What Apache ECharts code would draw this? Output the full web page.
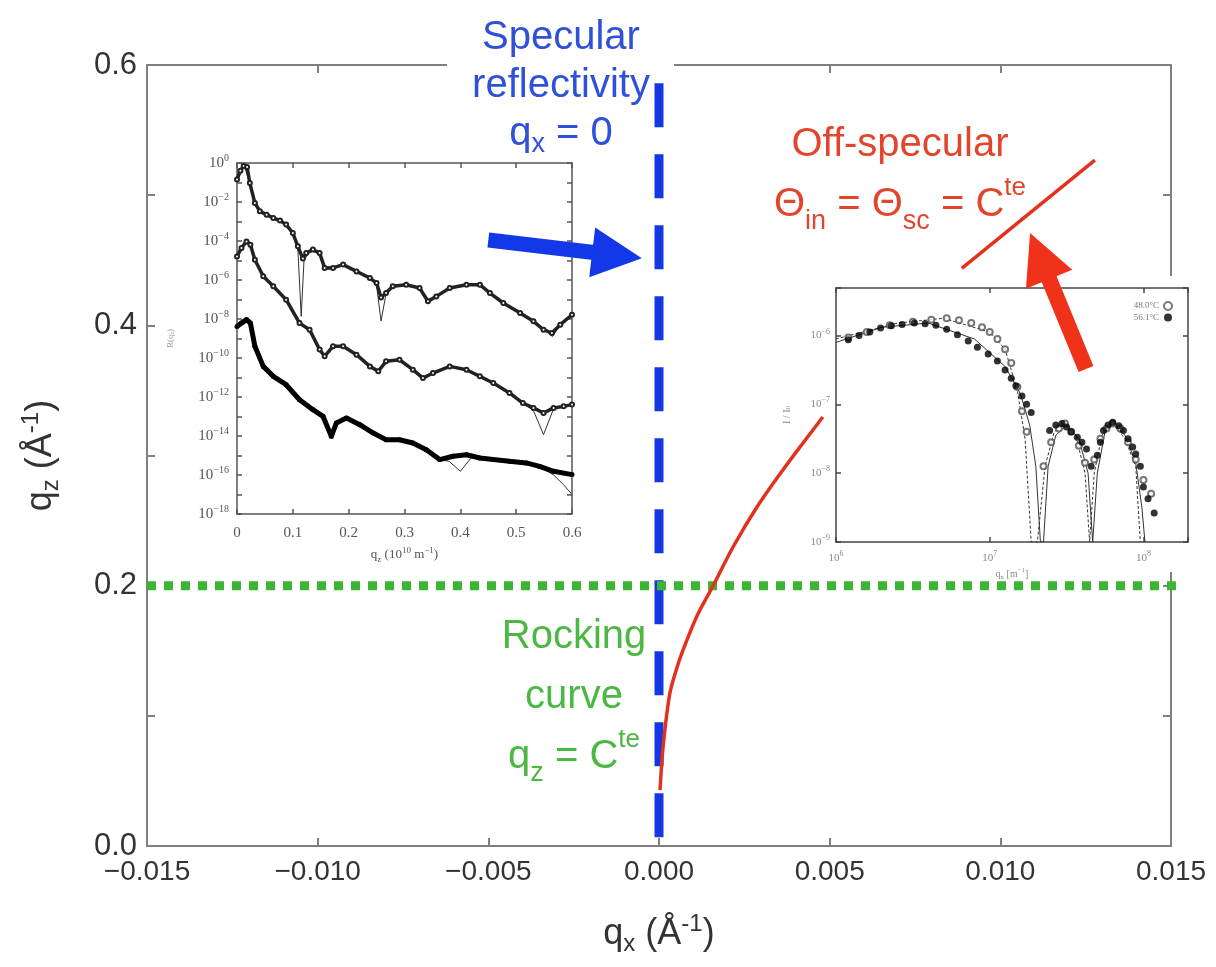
<!DOCTYPE html>
<html><head><meta charset="utf-8">
<script src="https://cdn.jsdelivr.net/npm/echarts/dist/echarts.min.js"></script>
<style>html,body{margin:0;padding:0;background:#fff}#c{width:1216px;height:967px}</style>
</head><body><div id="c"></div>
<script>
// ---------- main chart data (qx, qz in Å^-1) ----------
const specularLine = [[0, 0.586], [0, 0]];
const rockingLine = [[-0.015, 0.2], [0.0158, 0.2]];
const offSpecLower = [[0.00003,0.0430],[0.00012,0.0761],[0.00032,0.1175],[0.00056,0.1398],[0.00082,0.1583],[0.00114,0.1782],[0.00155,0.1982],[0.00217,0.2297],[0.00287,0.2604],[0.00363,0.2889],[0.00422,0.3096],[0.0048,0.3296]];
const offSpecUpper = [[0.00887,0.4438],[0.01277,0.527]];
const blueArrow = [[-0.0050,0.4656],[-0.00123,0.4538]];
const redArrow = [[0.01251,0.3664],[0.01115,0.4532]];

// ---------- inset 1: reflectivity curves (qz, log10 R) ----------
const specA = [[0,-0.85],[0.006,-0.4],[0.012,-0.15],[0.018,-0.2],[0.023,-1.03],[0.032,-2.05],[0.041,-2.48],[0.053,-2.65],[0.065,-2.82],[0.077,-2.95],[0.088,-3.16],[0.1,-3.59],[0.109,-4.27],[0.118,-4.9],[0.124,-4.62],[0.136,-4.44],[0.148,-4.62],[0.157,-5.38],[0.172,-5.38],[0.19,-5.21],[0.214,-5.56],[0.238,-5.9],[0.25,-6.15],[0.258,-6.9],[0.267,-6.67],[0.279,-6.32],[0.303,-6.24],[0.327,-6.41],[0.342,-7.09],[0.357,-6.84],[0.381,-6.41],[0.411,-6.24],[0.435,-6.24],[0.453,-6.67],[0.477,-7.18],[0.507,-7.69],[0.531,-8.12],[0.549,-8.55],[0.564,-8.72],[0.579,-8.29],[0.6,-7.78]];
const fitA = [[0,-0.8],[0.012,-0.1],[0.023,-1.0],[0.032,-2.05],[0.041,-2.48],[0.065,-2.82],[0.088,-3.16],[0.1,-3.6],[0.109,-4.4],[0.115,-7.86],[0.12,-5.0],[0.13,-4.5],[0.148,-4.62],[0.157,-5.3],[0.172,-5.35],[0.19,-5.2],[0.214,-5.56],[0.238,-5.9],[0.25,-6.3],[0.258,-8.1],[0.267,-6.7],[0.279,-6.32],[0.303,-6.24],[0.327,-6.41],[0.343,-7.2],[0.357,-6.84],[0.381,-6.41],[0.411,-6.24],[0.435,-6.24],[0.453,-6.67],[0.477,-7.18],[0.507,-7.69],[0.531,-8.12],[0.549,-8.5],[0.565,-8.9],[0.579,-8.3],[0.6,-7.78]];
const specB = [[0,-4.79],[0.008,-4.36],[0.017,-4.02],[0.024,-4.19],[0.032,-4.96],[0.047,-5.81],[0.065,-6.32],[0.088,-7.01],[0.112,-8.21],[0.13,-8.55],[0.148,-9.57],[0.157,-9.91],[0.172,-9.4],[0.19,-9.4],[0.214,-9.83],[0.238,-10.43],[0.253,-10.68],[0.267,-10.17],[0.291,-10.09],[0.315,-10.6],[0.333,-11.03],[0.351,-10.77],[0.381,-10.43],[0.411,-10.6],[0.435,-10.94],[0.459,-11.28],[0.488,-11.79],[0.512,-12.31],[0.531,-12.56],[0.549,-12.82],[0.567,-12.56],[0.585,-12.48],[0.6,-12.39]];
const fitB = [[0,-4.79],[0.017,-4.02],[0.024,-4.19],[0.032,-4.96],[0.047,-5.81],[0.065,-6.32],[0.088,-7.01],[0.112,-8.21],[0.13,-8.55],[0.148,-9.57],[0.157,-9.91],[0.172,-9.4],[0.19,-9.4],[0.214,-9.83],[0.238,-10.43],[0.253,-10.68],[0.267,-10.17],[0.291,-10.09],[0.315,-10.6],[0.333,-11.03],[0.351,-10.77],[0.381,-10.43],[0.411,-10.6],[0.435,-10.94],[0.459,-11.28],[0.488,-11.79],[0.512,-12.31],[0.531,-12.7],[0.549,-13.93],[0.567,-12.6],[0.585,-12.48],[0.6,-12.39]];
const specC = [[0,-8.38],[0.008,-8.21],[0.017,-8.03],[0.024,-8.21],[0.032,-9.4],[0.047,-10.43],[0.065,-10.94],[0.088,-11.37],[0.112,-12.14],[0.136,-12.65],[0.154,-12.99],[0.169,-14.02],[0.178,-13.33],[0.196,-13.08],[0.22,-13.42],[0.244,-13.85],[0.267,-14.19],[0.291,-14.19],[0.315,-14.36],[0.339,-14.7],[0.363,-15.21],[0.387,-15.04],[0.411,-14.96],[0.435,-15.13],[0.459,-15.21],[0.488,-15.3],[0.518,-15.38],[0.542,-15.56],[0.567,-15.81],[0.6,-15.98]];
const fitC = [[0,-8.38],[0.017,-8.03],[0.024,-8.21],[0.032,-9.4],[0.047,-10.43],[0.065,-10.94],[0.088,-11.37],[0.112,-12.14],[0.136,-12.65],[0.154,-12.99],[0.169,-14.02],[0.178,-13.33],[0.196,-13.08],[0.22,-13.42],[0.244,-13.85],[0.267,-14.19],[0.291,-14.19],[0.315,-14.36],[0.339,-14.7],[0.363,-15.21],[0.38,-15.3],[0.4,-15.81],[0.42,-15.1],[0.459,-15.21],[0.488,-15.3],[0.518,-15.38],[0.542,-15.56],[0.567,-16.0],[0.585,-16.5],[0.6,-17.0]];

// ---------- inset 2: off-specular curves (log10 qx, log10 I/I0) ----------
const open48 = [[6.08,-6.03],[6.2,-5.95],[6.35,-5.85],[6.5,-5.8],[6.62,-5.77],[6.72,-5.75],[6.8,-5.78],[6.88,-5.82],[6.95,-5.88],[7.0,-5.95],[7.05,-6.05],[7.1,-6.2],[7.14,-6.4],[7.18,-6.75],[7.21,-7.1],[7.24,-7.4],[7.35,-7.9],[7.4,-7.55],[7.45,-7.35],[7.49,-7.28],[7.53,-7.4],[7.58,-7.6],[7.62,-7.85],[7.68,-7.8],[7.72,-7.5],[7.76,-7.35],[7.8,-7.28],[7.85,-7.35],[7.9,-7.55],[7.95,-7.8],[8.0,-8.1],[8.05,-8.3]];
const filled56 = [[6.08,-6.06],[6.15,-6.0],[6.22,-5.95],[6.29,-5.89],[6.36,-5.86],[6.43,-5.84],[6.51,-5.82],[6.58,-5.83],[6.65,-5.85],[6.72,-5.91],[6.79,-5.99],[6.86,-6.08],[6.92,-6.17],[6.99,-6.27],[7.05,-6.37],[7.1,-6.5],[7.14,-6.62],[7.17,-6.73],[7.21,-6.88],[7.24,-7.0],[7.27,-7.12],[7.39,-7.38],[7.43,-7.3],[7.47,-7.28],[7.5,-7.33],[7.53,-7.4],[7.57,-7.48],[7.6,-7.55],[7.63,-7.65],[7.66,-7.9],[7.7,-7.74],[7.72,-7.55],[7.74,-7.38],[7.77,-7.3],[7.8,-7.26],[7.84,-7.31],[7.87,-7.38],[7.9,-7.5],[7.93,-7.62],[7.95,-7.72],[7.98,-7.9],[8.0,-8.2],[8.03,-8.37],[8.07,-8.58]];
const fit56 = [[6.0,-6.1],[6.3,-5.88],[6.6,-5.82],[6.9,-6.05],[7.1,-6.45],[7.2,-6.85],[7.26,-7.3],[7.3,-7.9],[7.33,-9.0],[7.35,-9.0],[7.38,-7.9],[7.43,-7.45],[7.5,-7.3],[7.58,-7.5],[7.64,-8.0],[7.67,-9.0],[7.7,-8.0],[7.75,-7.4],[7.81,-7.27],[7.88,-7.45],[7.95,-7.85],[7.99,-8.5],[8.01,-9.0]];
const fit48 = [[6.0,-6.05],[6.4,-5.82],[6.7,-5.75],[7.0,-5.95],[7.1,-6.2],[7.18,-6.8],[7.23,-7.5],[7.27,-9.0],[7.31,-9.0],[7.36,-7.9],[7.42,-7.4],[7.49,-7.27],[7.56,-7.45],[7.62,-8.0],[7.65,-9.0],[7.68,-8.0],[7.73,-7.45],[7.8,-7.28],[7.88,-7.5],[7.95,-7.9],[7.98,-9.0]];

const SANS = 'Liberation Sans, Arial, Helvetica, sans-serif';
const SERIF = 'Liberation Serif, DejaVu Serif, serif';
const FRAME = '#808080';

function mainX(v){ if (Math.abs(v) < 1e-12) return '0.000'; return (v < 0 ? '\u2212' : '') + Math.abs(v).toFixed(3); }
function mainY(v){ const k = Math.round(v * 10); return k % 2 === 0 ? (k / 10).toFixed(1) : ''; }
function pow10Even(v){ if (Math.abs(v - Math.round(v)) > 1e-9) return ''; const k = Math.round(v); if (k % 2 !== 0) return ''; return k === 0 ? '10{sup|0}' : '10{sup|\u2212' + (-k) + '}'; }
function pow10(v){ if (Math.abs(v - Math.round(v)) > 1e-9) return ''; const k = Math.round(v); return k < 0 ? '10{sup|\u2212' + (-k) + '}' : '10{sup|' + k + '}'; }

const supSub = (fs) => ({
  sub: {fontSize: fs, lineHeight: Math.round(fs*0.95), verticalAlign: 'bottom', fontFamily: SANS, fontWeight: 'normal'},
  sup: {fontSize: fs, lineHeight: Math.round(fs*0.95), verticalAlign: 'top', fontFamily: SANS, fontWeight: 'normal'}
});
function annot(color, lh){
  return {
    a: {fontSize: 40, lineHeight: lh, color: color, fontFamily: SANS, fontWeight: 'normal'},
    s: {fontSize: 27, lineHeight: Math.round(lh/2), verticalAlign: 'bottom', color: color, fontFamily: SANS, fontWeight: 'normal'},
    p: {fontSize: 26, lineHeight: Math.round(lh/2), verticalAlign: 'top', color: color, fontFamily: SANS, fontWeight: 'normal'}
  };
}
function frameAxis(grid, pos, min, max, interval, color, width, tick, extra){
  return Object.assign({gridIndex: grid, type: 'value', min: min, max: max, interval: interval, position: pos,
    axisLine: {show: true, onZero: false, lineStyle: {color: color, width: width}},
    axisTick: {show: true, inside: true, length: tick, lineStyle: {color: color, width: Math.min(width, 2)}},
    axisLabel: {show: false}, splitLine: {show: false}}, extra || {});
}

const chart = echarts.init(document.getElementById('c'), null, {renderer: 'canvas'});

const option = {
  animation: false,
  backgroundColor: '#fff',
  textStyle: {fontFamily: SANS},
  grid: [
    {left: 147, top: 65, width: 1024, height: 781, show: false},
    {left: 237, top: 163, width: 335, height: 351, show: true, backgroundColor: '#fff', borderWidth: 0, zlevel: 1, z: 2},
    {left: 836, top: 288, width: 352, height: 254, show: true, backgroundColor: '#fff', borderWidth: 0, zlevel: 1, z: 2}
  ],
  xAxis: [
    frameAxis(0, 'bottom', -0.015, 0.015, 0.005, FRAME, 2, 8, {
      axisLabel: {formatter: mainX, fontSize: 28, color: '#333', margin: 12, fontFamily: SANS},
      name: 'q{sub|x} (Å{sup|-1})', nameLocation: 'middle', nameGap: 66,
      nameTextStyle: {fontSize: 36, color: '#333', lineHeight: 44, fontFamily: SANS, rich: supSub(24)}}),
    frameAxis(0, 'top', -0.015, 0.015, 0.005, FRAME, 2, 8),
    frameAxis(1, 'bottom', 0, 0.6, 0.1, '#555', 1.5, 5, {zlevel: 1, z: 3,
      axisLabel: {formatter: v => v === 0 ? '0' : v.toFixed(1), fontSize: 15, color: '#555', margin: 12, fontFamily: SERIF},
      name: 'q{sub|z} (10{sup|10} m{sup|\u22121})', nameLocation: 'middle', nameGap: 32,
      nameTextStyle: {fontSize: 13, color: '#555', lineHeight: 18, fontFamily: SERIF,
        rich: {sub: {fontSize: 9, lineHeight: 9, verticalAlign: 'bottom', fontFamily: SERIF}, sup: {fontSize: 9, lineHeight: 9, verticalAlign: 'top', fontFamily: SERIF}}}}),
    frameAxis(1, 'top', 0, 0.6, 0.1, '#555', 1.5, 5, {zlevel: 1, z: 3}),
    frameAxis(2, 'bottom', 6, 8.29, 1, '#444', 1.5, 5, {zlevel: 1, z: 3,
      axisLabel: {formatter: pow10, fontSize: 11, color: '#888', margin: 8, fontFamily: SERIF, lineHeight: 16,
        rich: {sup: {fontSize: 8, lineHeight: 8, verticalAlign: 'top', fontFamily: SERIF, color: '#888'}}},
      name: 'q{sub|x} [m{sup|\u22121}]', nameLocation: 'middle', nameGap: 22,
      nameTextStyle: {fontSize: 10, color: '#888', fontFamily: SERIF, lineHeight: 14,
        rich: {sub: {fontSize: 7, lineHeight: 7, verticalAlign: 'bottom', fontFamily: SERIF}, sup: {fontSize: 7, lineHeight: 7, verticalAlign: 'top', fontFamily: SERIF}}}}),
    frameAxis(2, 'top', 6, 8.29, 1, '#444', 1.5, 5, {zlevel: 1, z: 3})
  ],
  yAxis: [
    frameAxis(0, 'left', 0, 0.6, 0.1, FRAME, 2, 8, {
      axisLabel: {formatter: mainY, fontSize: 31, color: '#333', margin: 10, fontFamily: SANS},
      name: 'q{sub|z} (Å{sup|-1})', nameLocation: 'middle', nameGap: 84,
      nameTextStyle: {fontSize: 36, color: '#333', lineHeight: 44, fontFamily: SANS, rich: supSub(24)}}),
    frameAxis(0, 'right', 0, 0.6, 0.1, FRAME, 2, 8),
    frameAxis(1, 'left', -18, 0, 1, '#555', 1.5, 5, {zlevel: 1, z: 3,
      axisLabel: {formatter: pow10Even, fontSize: 15, color: '#555', margin: 8, fontFamily: SERIF, lineHeight: 20,
        rich: {sup: {fontSize: 10, lineHeight: 8, verticalAlign: 'top', fontFamily: SERIF, color: '#555'}}},
      name: 'R(q{sub|z})', nameLocation: 'middle', nameGap: 62,
      nameTextStyle: {fontSize: 9, color: '#999', fontFamily: SERIF, rich: {sub: {fontSize: 6, lineHeight: 6, verticalAlign: 'bottom'}}}}),
    frameAxis(1, 'right', -18, 0, 1, '#555', 1.5, 5, {zlevel: 1, z: 3}),
    frameAxis(2, 'left', -9, -5.31, 1, '#444', 1.5, 5, {zlevel: 1, z: 3,
      axisLabel: {formatter: pow10, fontSize: 11, color: '#888', margin: 6, fontFamily: SERIF, lineHeight: 16,
        rich: {sup: {fontSize: 8, lineHeight: 8, verticalAlign: 'top', fontFamily: SERIF, color: '#888'}}},
      name: 'I / I{sub|0}', nameLocation: 'middle', nameGap: 44,
      nameTextStyle: {fontSize: 10, color: '#888', fontFamily: SERIF, rich: {sub: {fontSize: 7, lineHeight: 7, verticalAlign: 'bottom'}}}}),
    frameAxis(2, 'right', -9, -5.31, 1, '#444', 1.5, 5, {zlevel: 1, z: 3})
  ],
  legend: {
    data: ['48.0°C', '56.1°C'], orient: 'vertical', right: 38, top: 296, align: 'right',
    itemWidth: 8, itemHeight: 8, itemGap: 2, zlevel: 1, z: 6,
    textStyle: {fontSize: 9, color: '#777', fontFamily: SERIF}
  },
  title: [
    {text: '{a|Specular}\n{a|reflectivity}\n{a|q}{s|x}{a| = 0}', left: 556, top: 9, textAlign: 'center', zlevel: 2,
     textStyle: {fontWeight: 'normal', rich: annot('#2f51d8', 48)}},
    {text: '{a|Off-specular}\n{a|\u0398}{s|in}{a| = \u0398}{s|sc}{a| = C}{p|te}', left: 895, top: 110, textAlign: 'center', zlevel: 2,
     textStyle: {fontWeight: 'normal', rich: annot('#e2452c', 60)}},
    {text: '{a|Rocking}\n{a|curve}\n{a|q}{s|z}{a| = C}{p|te}', left: 569, top: 602, textAlign: 'center', zlevel: 2,
     textStyle: {fontWeight: 'normal', rich: annot('#4bb843', 60)}}
  ],
  graphic: [
    {type: 'rect', shape: {x: 447, y: 40, width: 227, height: 42}, style: {fill: '#fff'}, zlevel: 0, z: 50, silent: true},
    {type: 'rect', shape: {x: 826, y: 276, width: 371, height: 296}, style: {fill: '#fff'}, zlevel: 1, z: 1, silent: true}
  ],
  series: [
    {type: 'line', name: 'specular', xAxisIndex: 0, yAxisIndex: 0, data: specularLine, symbol: 'none', z: 3,
     lineStyle: {color: '#1438e4', width: 9, type: [44, 27], cap: 'butt'}},
    {type: 'line', name: 'rocking', xAxisIndex: 0, yAxisIndex: 0, data: rockingLine, symbol: 'none', clip: false, z: 3,
     lineStyle: {color: '#3db534', width: 9, type: [9, 8], cap: 'butt'}},
    {type: 'line', name: 'offLower', xAxisIndex: 0, yAxisIndex: 0, data: offSpecLower, symbol: 'none', smooth: 0.3, z: 4,
     lineStyle: {color: '#e2321e', width: 3.5}},
    {type: 'line', name: 'offUpper', xAxisIndex: 0, yAxisIndex: 0, data: offSpecUpper, symbol: 'none', z: 4,
     lineStyle: {color: '#e2321e', width: 3.5}},
    {type: 'lines', coordinateSystem: 'cartesian2d', xAxisIndex: 0, yAxisIndex: 0, zlevel: 2,
     symbol: ['none', 'triangle'], symbolSize: 50,
     lineStyle: {color: '#1238e8', width: 15, opacity: 1, cap: 'butt'},
     data: [{coords: blueArrow}]},
    {type: 'lines', coordinateSystem: 'cartesian2d', xAxisIndex: 0, yAxisIndex: 0, zlevel: 2,
     symbol: ['none', 'triangle'], symbolSize: 50,
     lineStyle: {color: '#f0321a', width: 16, opacity: 1, cap: 'butt'},
     data: [{coords: redArrow}]},
    // inset 1
    {type: 'line', xAxisIndex: 2, yAxisIndex: 2, zlevel: 1, z: 4, data: fitA, symbol: 'none', lineStyle: {color: '#333', width: 1}},
    {type: 'line', xAxisIndex: 2, yAxisIndex: 2, zlevel: 1, z: 4, data: fitB, symbol: 'none', lineStyle: {color: '#333', width: 1}},
    {type: 'line', xAxisIndex: 2, yAxisIndex: 2, zlevel: 1, z: 4, data: fitC, symbol: 'none', lineStyle: {color: '#333', width: 1}},
    {type: 'line', xAxisIndex: 2, yAxisIndex: 2, zlevel: 1, z: 5, data: specA, symbol: 'emptyCircle', symbolSize: 4, showAllSymbol: true,
     itemStyle: {color: '#222', borderWidth: 1}, lineStyle: {color: '#222', width: 3.5}},
    {type: 'line', xAxisIndex: 2, yAxisIndex: 2, zlevel: 1, z: 5, data: specB, symbol: 'emptyCircle', symbolSize: 4, showAllSymbol: true,
     itemStyle: {color: '#222', borderWidth: 1}, lineStyle: {color: '#222', width: 3.5}},
    {type: 'line', xAxisIndex: 2, yAxisIndex: 2, zlevel: 1, z: 5, data: specC, symbol: 'circle', symbolSize: 5, showAllSymbol: true,
     itemStyle: {color: '#000'}, lineStyle: {color: '#000', width: 5}},
    // inset 2
    {type: 'line', xAxisIndex: 4, yAxisIndex: 4, zlevel: 1, z: 4, data: fit56, symbol: 'none', lineStyle: {color: '#333', width: 1}},
    {type: 'line', xAxisIndex: 4, yAxisIndex: 4, zlevel: 1, z: 4, data: fit48, symbol: 'none', lineStyle: {color: '#333', width: 1, type: [3, 2]}},
    {type: 'scatter', name: '48.0°C', xAxisIndex: 4, yAxisIndex: 4, zlevel: 1, z: 5, data: open48, symbol: 'emptyCircle', symbolSize: 6,
     itemStyle: {color: '#555', borderWidth: 1}},
    {type: 'scatter', name: '56.1°C', xAxisIndex: 4, yAxisIndex: 4, zlevel: 1, z: 6, data: filled56, symbol: 'circle', symbolSize: 7,
     itemStyle: {color: '#000'}}
  ]
};
chart.setOption(option);
</script>
</body></html>
